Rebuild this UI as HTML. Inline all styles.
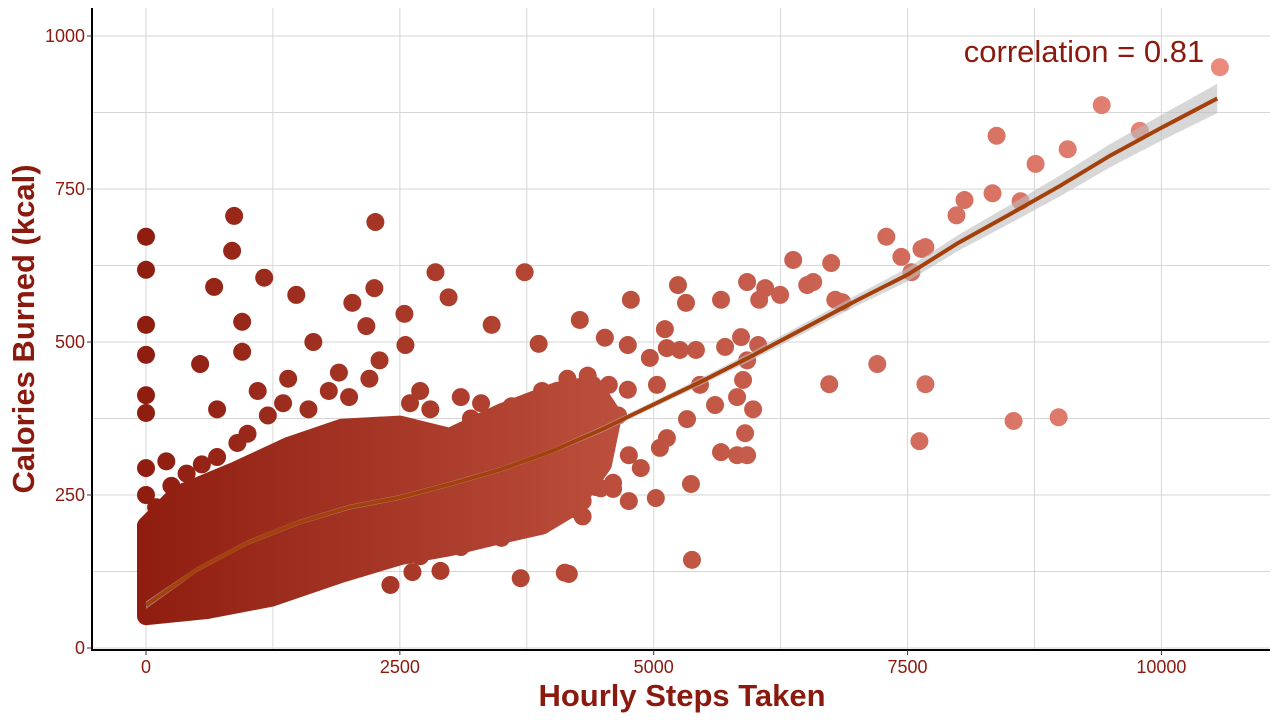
<!DOCTYPE html>
<html><head><meta charset="utf-8"><style>
html,body{margin:0;padding:0;background:#fff;}
svg{display:block;font-family:"Liberation Sans",Arial,sans-serif;}
</style></head><body>
<svg id="chart" width="1280" height="720" viewBox="0 0 1280 720">
<defs>
<linearGradient id="grad" gradientUnits="userSpaceOnUse" x1="146" y1="0" x2="1218" y2="0">
<stop offset="0" stop-color="#8f1e10"/><stop offset="0.4" stop-color="#b84a38"/><stop offset="1" stop-color="#ea8a7c"/>
</linearGradient>
</defs>
<g id="grid"></g>
<g id="band"></g>
<g id="points"></g>
<g id="smooth"></g>
<g id="axes"></g>
<text x="1084" y="62" font-size="31" fill="#8b1a0e" text-anchor="middle">correlation = 0.81</text>
<text x="682" y="706" font-size="31" font-weight="bold" fill="#8b1a0e" text-anchor="middle">Hourly Steps Taken</text>
<text transform="translate(34,329) rotate(-90)" font-size="31" font-weight="bold" fill="#8b1a0e" text-anchor="middle">Calories Burned (kcal)</text>
</svg>
<script>
const xTicks=[0,2500,5000,7500,10000];
const yTicks=[0,250,500,750,1000];
const xMinor=[1250,3750,6250,8750];
const yMinor=[125,375,625,875];
const ptSteps=[0,0,0,0,0,0,0,0,868,848,671,947,947,1164,1480,1648,533,2259,2249,2032,2170,2545,2851,2980,3729,3867,3404,2555,4272,4519,4775,4745,4962,5110,5239,5318,5129,5258,5416,5663,5703,5920,6098,6039,6245,6374,6512,6571,6748,6788,6857,5860,6029,5920,7291,7439,7538,7637,7676,7202,6729,7676,7617,8544,8988,7982,8061,8337,8377,8613,8761,9077,9412,9787,10576,5880,5821,5979,5900,5663,5821,5920,5367,5377,4479,4755,5021,4873,3690,4124,4164,2900,2407,2624,4252,4430,4755,5061,5130,5328,5604,5456,5032,4745,4558,200,700,1100,1400,1900,2300,2700,3100,3300,4000,4300,4600,4650,1200,1700,2100,
100,250,400,550,700,900,1000,1200,1350,1600,1800,2000,2200,2600,2800,3200,3600,3900,4150,4350,300,700,1100,1500,1800,2200,2700,3100,3500,3900,4300,4600];
const ptKcal=[672,618,528,479,413,384,294,250,706,649,590,533,484,605,577,500,464,696,588,564,526,546,614,573,614,497,528,495,536,507,569,495,474,521,593,564,490,487,487,569,492,598,588,569,577,634,593,598,629,569,565,508,495,470,672,639,614,652,655,464,431,431,338,371,377,707,732,743,837,730,791,815,887,845,949,438,410,390,351,320,315,315,268,144,261,240,245,294,114,123,121,126,103,124,225,263,315,327,343,374,397,430,430,422,430,305,390,420,440,450,470,420,410,400,300,240,270,380,95,110,130,
230,265,285,300,312,335,350,380,400,390,420,410,440,400,390,375,395,420,440,445,60,75,80,100,118,140,150,165,180,200,215,260];
const bandSteps=[0,300,880,1400,1930,2500,2990,3500,4045,4400,4600,4500,4200,3900,3500,3000,2500,1900,1230,600,0];
const bandKcal=[200,250,290,330,360,365,345,385,420,430,380,300,230,200,185,165,150,120,82,62,52];
const smSteps=[0,500,1000,1500,2000,2500,3000,3500,4000,4500,5000,5500,6000,6500,7000,7500,8000,8500,9000,9500,10000,10550];
const smKcal=[70,128,172,205,230,246,268,292,322,358,398,438,480,524,568,610,662,708,755,805,850,898];
const smSe=[6,4,4,4,4,4,4,4,4,5,5,6,7,8,9,11,13,15,17,19,21,24];
const X=s=>146+s*0.10154, Y=k=>648-k*0.612;
const NS='http://www.w3.org/2000/svg';
function mk(tag,attrs,parent){const e=document.createElementNS(NS,tag);for(const k in attrs)e.setAttribute(k,attrs[k]);parent.appendChild(e);return e;}
const grid=document.getElementById('grid');
xMinor.concat(xTicks).forEach(v=>{const l=mk('line',{x1:X(v),x2:X(v),y1:8,y2:650,stroke:'#d6d6d6','stroke-width':1},grid);

});
yMinor.concat(yTicks).forEach(v=>{const l=mk('line',{x1:92,x2:1270,y1:Y(v),y2:Y(v),stroke:'#d6d6d6','stroke-width':1},grid);

});
const band=document.getElementById('band');
const bp=mk('polygon',{points:bandSteps.map((s,i)=>X(s)+','+Y(bandKcal[i])).join(' '),fill:'url(#grad)',stroke:'url(#grad)','stroke-width':18,'stroke-linejoin':'round'},band);


const pts=document.getElementById('points');
ptSteps.forEach((s,i)=>{const c=mk('circle',{cx:X(s),cy:Y(ptKcal[i]),r:9,fill:'url(#grad)'},pts);

});
const sm=document.getElementById('smooth');
const up=smSteps.map((s,i)=>X(s)+','+Y(smKcal[i]+smSe[i]));
const lo=smSteps.map((s,i)=>X(s)+','+Y(smKcal[i]-smSe[i])).reverse();
const rib=mk('polygon',{points:up.concat(lo).join(' '),fill:'#bdbdbd','fill-opacity':0.6},sm);


const ln=mk('polyline',{points:smSteps.map((s,i)=>X(s)+','+Y(smKcal[i])).join(' '),fill:'none',stroke:'#a3400c','stroke-width':4,'stroke-linejoin':'round'},sm);


const ax=document.getElementById('axes');
const la=mk('line',{x1:92,x2:92,y1:8,y2:651,stroke:'#000','stroke-width':2},ax);


const ba=mk('line',{x1:91,x2:1270,y1:650,y2:650,stroke:'#000','stroke-width':2},ax);


xTicks.forEach(v=>{mk('line',{x1:X(v),x2:X(v),y1:650,y2:655,stroke:'#333'},ax);
const t=mk('text',{x:X(v),y:673,'font-size':18,fill:'#8b1a0e','text-anchor':'middle'},ax);t.textContent=v;

});
yTicks.forEach(v=>{mk('line',{x1:87,x2:92,y1:Y(v),y2:Y(v),stroke:'#333'},ax);
const t=mk('text',{x:85,y:Y(v)+6,'font-size':18,fill:'#8b1a0e','text-anchor':'end'},ax);t.textContent=v;

});
</script>
</body></html>
